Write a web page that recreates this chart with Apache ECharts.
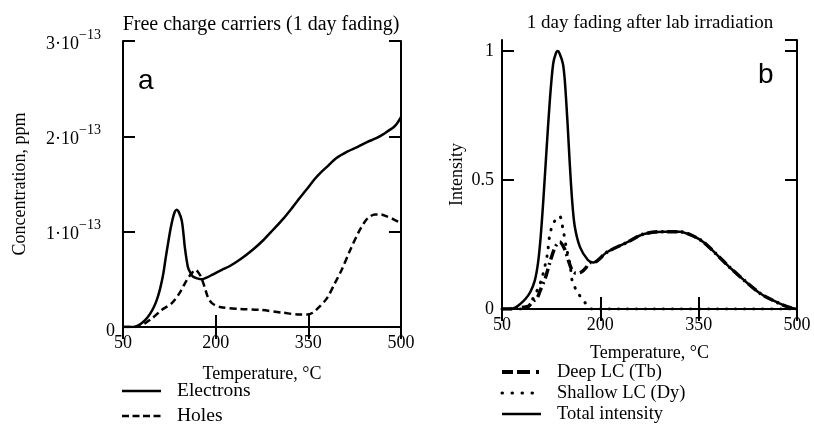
<!DOCTYPE html>
<html>
<head>
<meta charset="utf-8">
<script src="https://cdn.jsdelivr.net/npm/echarts@6/dist/echarts.min.js"></script>
<style>
  html, body { margin: 0; padding: 0; background: #fff; }
  #chart { width: 814px; height: 425px; }
</style>
</head>
<body>
<div id="chart"></div>
<script>
// panel a: free charge carriers, concentration in units of 1e-13 ppm
const elecT = [50, 65, 72, 79, 87, 94, 100, 105, 110, 115, 119, 123, 127, 131, 134, 137, 140, 145, 148, 150, 155, 159, 163, 170, 178, 186, 195, 210, 223, 240, 260, 277, 293, 310, 325, 337, 348, 360, 370, 380, 395, 413, 430, 445, 460, 471, 480, 487, 493, 500]
const elecV = [0, 0, 0.01, 0.035, 0.08, 0.14, 0.21, 0.29, 0.4, 0.55, 0.72, 0.88, 1.03, 1.15, 1.21, 1.23, 1.21, 1.12, 0.97, 0.84, 0.63, 0.57, 0.53, 0.51, 0.5, 0.52, 0.55, 0.6, 0.64, 0.71, 0.81, 0.91, 1.02, 1.14, 1.26, 1.36, 1.45, 1.55, 1.62, 1.68, 1.77, 1.84, 1.89, 1.94, 1.98, 2.02, 2.06, 2.09, 2.13, 2.2]
const holeT = [50, 70, 78, 86, 97, 113, 129, 142, 153, 162, 167, 171, 176, 180, 184, 187, 194, 207, 239, 272, 309, 336, 348, 357, 366, 380, 393, 404, 418, 431, 442, 450, 458, 467, 477, 488, 500]
const holeV = [0, 0, 0.01, 0.04, 0.09, 0.18, 0.25, 0.36, 0.49, 0.57, 0.6, 0.58, 0.53, 0.46, 0.38, 0.32, 0.25, 0.21, 0.19, 0.18, 0.15, 0.13, 0.13, 0.15, 0.2, 0.3, 0.46, 0.6, 0.81, 0.99, 1.11, 1.16, 1.18, 1.18, 1.16, 1.13, 1.09]

// panel b: normalised TL intensity
const totalT = [50, 60, 70, 78, 86, 93, 100, 105, 109, 113, 118, 123, 128, 132, 135, 138, 143, 146, 150, 153, 157, 161, 169, 181, 189, 210, 242, 265, 296, 321, 340, 357, 378, 398, 420, 444, 462, 479, 490, 500]
const totalV = [0, 0, 0.005, 0.02, 0.04, 0.065, 0.11, 0.18, 0.28, 0.42, 0.62, 0.81, 0.95, 0.99, 1.0, 0.99, 0.95, 0.88, 0.72, 0.58, 0.42, 0.32, 0.24, 0.19, 0.18, 0.22, 0.26, 0.29, 0.3, 0.3, 0.285, 0.26, 0.21, 0.16, 0.11, 0.06, 0.035, 0.015, 0.005, 0]
const deepT = [50, 60, 75, 90, 97, 103, 108, 116, 123, 131, 138, 146, 151, 157, 162, 166, 172, 178, 184, 189, 210, 242, 265, 296, 321, 340, 357, 378, 398, 420, 444, 462, 479, 490, 500]
const deepV = [0, 0, 0.005, 0.01, 0.03, 0.04, 0.07, 0.12, 0.18, 0.24, 0.26, 0.23, 0.19, 0.15, 0.14, 0.14, 0.145, 0.16, 0.18, 0.18, 0.22, 0.26, 0.29, 0.3, 0.3, 0.285, 0.26, 0.21, 0.16, 0.11, 0.06, 0.035, 0.015, 0.005, 0]
const shallowT = [50, 85, 97, 105, 111, 119, 123, 128, 133, 138, 143, 148, 154, 157, 164, 172, 180, 187, 500]
const shallowV = [0, 0, 0.04, 0.08, 0.12, 0.21, 0.29, 0.33, 0.35, 0.36, 0.31, 0.24, 0.17, 0.11, 0.07, 0.04, 0.015, 0, 0]

const zip = (xs, ys) => xs.map((x, i) => [x, ys[i]])

const serif = 'Liberation Serif'
const ink = '#000'

// each panel: labelled bottom/left axes plus bare top/right ones for the inward ticks
function xAxes(grid, gap) {
  const base = {
    type: 'value', gridIndex: grid, min: 50, max: 500, interval: 150,
    splitLine: { show: false },
    axisLine: { lineStyle: { color: ink, width: 2 } },
    axisTick: { inside: true, length: 12, lineStyle: { color: ink, width: 2 } }
  }
  return [
    Object.assign({}, base, {
      position: 'bottom', name: 'Temperature, °C', nameLocation: 'middle', nameGap: gap,
      nameTextStyle: { fontFamily: serif, fontSize: 18, color: ink },
      axisLabel: { fontFamily: serif, fontSize: 18, color: ink, margin: 7 }
    }),
    Object.assign({}, base, { position: 'top', axisLabel: { show: false } })
  ]
}

function yAxes(grid, max, interval, name, gap, fmt, rich) {
  const base = {
    type: 'value', gridIndex: grid, min: 0, max: max, interval: interval,
    splitLine: { show: false },
    axisLine: { show: true, lineStyle: { color: ink, width: 2 } },
    axisTick: { inside: true, length: 12, lineStyle: { color: ink, width: 2 } }
  }
  return [
    Object.assign({}, base, {
      position: 'left', name: name, nameLocation: 'middle', nameGap: gap,
      nameTextStyle: { fontFamily: serif, fontSize: 18, color: ink },
      axisLabel: { fontFamily: serif, fontSize: 18, color: ink, margin: 8, formatter: fmt, rich: rich }
    }),
    Object.assign({}, base, { position: 'right', axisLabel: { show: false } })
  ]
}

// legend samples + captions, drawn by hand so the dash patterns match
function legendRow(x, y, text, size, dash, width, cap) {
  return [
    { type: 'line', shape: { x1: x, y1: y, x2: x + 39, y2: y },
      style: { stroke: ink, lineWidth: width, lineDash: dash, lineCap: cap || 'butt' } },
    { type: 'text', x: x + 55, y: y, style: { text: text, font: size + 'px "Liberation Serif"', fill: ink, verticalAlign: 'middle' } }
  ]
}

function curve(name, grid, xs, ys, lineStyle) {
  return {
    name: name, type: 'line', xAxisIndex: grid * 2, yAxisIndex: grid * 2,
    data: zip(xs, ys), smooth: 0.3, symbol: 'none',
    lineStyle: Object.assign({ color: ink }, lineStyle)
  }
}

const chart = echarts.init(document.getElementById('chart'), null, { renderer: 'canvas' })

chart.setOption({
  backgroundColor: '#fff',
  animation: false,
  grid: [
    { left: 123, top: 41, width: 278, height: 286 },
    { left: 502, top: 40, width: 295, height: 269 }
  ],
  xAxis: [].concat(xAxes(0, 38), xAxes(1, 35)),
  yAxis: [].concat(
    yAxes(0, 3, 1, 'Concentration, ppm', 94,
      v => v === 0 ? '{z|0}' : '{b|' + v + '·10}{s|−13}',
      {
        z: { fontFamily: serif, fontSize: 18, color: ink, padding: [8, 0, 0, 0] },
        b: { fontFamily: serif, fontSize: 18, color: ink, padding: [6, 0, 0, 0] },
        s: { fontFamily: serif, fontSize: 14, color: ink, padding: [0, 14, 12, 0] }
      }),
    yAxes(1, 1.043, 0.5, 'Intensity', 36, v => String(v))
  ),
  graphic: [].concat(
    [
      { type: 'text', x: 261, y: 25, style: { text: 'Free charge carriers (1 day fading)', font: '20px "Liberation Serif"', fill: ink, align: 'center', verticalAlign: 'middle' } },
      { type: 'text', x: 650, y: 23, style: { text: '1 day fading after lab irradiation', font: '19px "Liberation Serif"', fill: ink, align: 'center', verticalAlign: 'middle' } },
      { type: 'text', x: 138, y: 81, style: { text: 'a', font: '28px "Liberation Sans"', fill: ink, align: 'left', verticalAlign: 'middle' } },
      { type: 'text', x: 758, y: 75, style: { text: 'b', font: '28px "Liberation Sans"', fill: ink, align: 'left', verticalAlign: 'middle' } }
    ],
    legendRow(122, 391, 'Electrons', 19.5, null, 2.5),
    legendRow(122, 416, 'Holes', 19.5, [7, 3.5], 2.5),
    legendRow(502, 372, 'Deep LC (Tb)', 18.5, [11, 4, 13, 6, 3, 10], 4),
    legendRow(502, 393, 'Shallow LC (Dy)', 18.5, [0.5, 9.5], 3, 'round'),
    legendRow(502, 414, 'Total intensity', 18.5, null, 2.5)
  ),
  series: [
    curve('Electrons', 0, elecT, elecV, { width: 2.5 }),
    curve('Holes', 0, holeT, holeV, { width: 2.5, type: [7, 4] }),
    curve('Total intensity', 1, totalT, totalV, { width: 2.5 }),
    curve('Deep LC (Tb)', 1, deepT, deepV, { width: 3.5, type: [10, 4, 2, 4] }),
    curve('Shallow LC (Dy)', 1, shallowT, shallowV, { width: 3, type: [0.5, 8.5], cap: 'round' })
  ]
})
</script>
</body>
</html>
